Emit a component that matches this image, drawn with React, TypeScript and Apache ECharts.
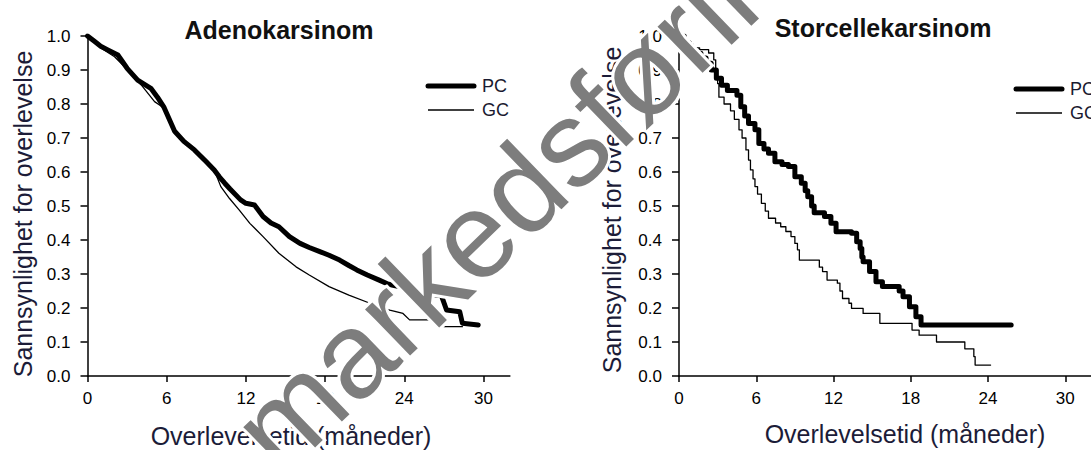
import React, { useEffect, useRef } from "react";
import * as echarts from "echarts";

// Adenokarsinom (left panel) — Kaplan-Meier estimates [months, survival]
const adenoPC: [number, number][] = [
  [0, 1], [0.5, 0.985], [1.0, 0.97], [1.5, 0.96], [2.3, 0.944], [3.0, 0.905], [3.8, 0.87],
  [4.8, 0.846], [5.3, 0.82], [5.8, 0.79], [6.6, 0.72], [7.3, 0.69], [8.1, 0.665], [9.0, 0.63],
  [9.6, 0.606], [10.0, 0.585], [10.4, 0.567], [10.8, 0.55], [11.6, 0.518], [12.0, 0.508],
  [12.65, 0.503], [13.3, 0.469], [13.9, 0.45], [14.5, 0.439], [15.3, 0.41], [16.1, 0.39],
  [16.8, 0.378], [17.6, 0.366], [18.3, 0.355], [19.1, 0.341], [19.8, 0.325], [20.4, 0.312],
  [21.2, 0.297], [22.1, 0.282], [22.8, 0.27], [23.6, 0.263], [24.4, 0.258], [24.9, 0.253],
  [25.7, 0.238], [26.8, 0.238], [27.2, 0.194], [28.2, 0.189], [28.4, 0.155], [29.6, 0.15],
];
const adenoGC: [number, number][] = [
  [0, 1], [1.04, 0.964], [2.05, 0.939], [3.05, 0.9], [4.07, 0.856], [5.08, 0.807], [5.8, 0.788],
  [6.6, 0.72], [8.1, 0.665], [9.6, 0.606], [10.1, 0.557], [10.76, 0.522], [11.5, 0.488],
  [12.3, 0.449], [13.3, 0.41], [14.5, 0.361], [15.8, 0.321], [16.8, 0.297], [18.3, 0.263],
  [19.8, 0.238], [21.4, 0.214], [22.9, 0.194], [23.9, 0.184], [24.4, 0.165], [26.9, 0.165],
  [27.0, 0.145], [28.4, 0.145],
];

// Storcellekarsinom (right panel) — step points [event time, new survival]
const storPC: [number, number][] = [
  [0, 1], [0.4, 0.98], [0.8, 0.96], [1.35, 0.949], [1.7, 0.935], [2.1, 0.92], [2.5, 0.9],
  [2.9, 0.876], [3.3, 0.855], [3.76, 0.84], [4.5, 0.826], [4.8, 0.792], [5.1, 0.765],
  [5.4, 0.743], [5.9, 0.724], [6.2, 0.684], [6.6, 0.668], [6.95, 0.655], [7.45, 0.63],
  [8.0, 0.622], [8.5, 0.616], [9.0, 0.586], [9.5, 0.567], [9.8, 0.545], [10.0, 0.527],
  [10.3, 0.5], [10.5, 0.48], [11.3, 0.469], [11.8, 0.449], [12.2, 0.424], [13.4, 0.42],
  [13.8, 0.395], [14.07, 0.375], [14.2, 0.35], [14.3, 0.336], [14.8, 0.307], [15.3, 0.277],
  [15.8, 0.263], [17.1, 0.25], [17.4, 0.233], [17.9, 0.204], [18.4, 0.174], [18.8, 0.15],
  [25.8, 0.15],
];
const storGC: [number, number][] = [
  [0, 1], [0.3, 0.985], [0.7, 0.975], [1.1, 0.965], [1.6, 0.96], [2.3, 0.95], [2.7, 0.93],
  [2.85, 0.9], [3.0, 0.86], [3.1, 0.82], [3.5, 0.8], [4.0, 0.78], [4.3, 0.755], [4.66, 0.724],
  [4.9, 0.7], [5.2, 0.665], [5.4, 0.635], [5.55, 0.606], [5.75, 0.58], [5.9, 0.557],
  [6.1, 0.535], [6.4, 0.508], [6.7, 0.485], [6.95, 0.464], [7.5, 0.45], [7.9, 0.439],
  [8.3, 0.425], [8.7, 0.41], [9.0, 0.39], [9.2, 0.371], [9.35, 0.341], [10.9, 0.32],
  [11.15, 0.307], [11.5, 0.282], [12.3, 0.273], [12.5, 0.25], [12.7, 0.228], [13.2, 0.214],
  [13.4, 0.199], [14.3, 0.184], [15.6, 0.155], [18.1, 0.135], [18.65, 0.12], [20.0, 0.1],
  [22.2, 0.08], [22.9, 0.057], [23.0, 0.032], [24.2, 0.032],
];

const xTicks = [0, 6, 12, 18, 24, 30];
const yTicks = [0, 0.1, 0.2, 0.3, 0.4, 0.5, 0.6, 0.7, 0.8, 0.9, 1.0];
const titles = ["Adenokarsinom", "Storcellekarsinom"];
const seriesNames = ["PC", "GC"];
const xName = "Overlevelsetid (måneder)";
const yName = "Sannsynlighet for overlevelse";
const watermark = "markedsføring";

const FONT = "'Liberation Sans', Arial, sans-serif";

export default function App() {
  const ref = useRef<HTMLDivElement>(null);
  useEffect(() => {
    document.body.style.margin = "0";
    if (!ref.current) return;
    const chart = echarts.init(ref.current, undefined, { renderer: "svg" });

    const mkX = (i: number) => ({
      type: "value",
      gridIndex: i,
      min: 0,
      max: 32,
      axisLine: { show: true, onZero: false, lineStyle: { color: "#000", width: 1.5 } },
      axisTick: { show: true, length: 6, customValues: xTicks, lineStyle: { color: "#000", width: 1.5 } },
      axisLabel: { customValues: xTicks, color: "#000", fontSize: 17, fontFamily: FONT, margin: 14 },
      splitLine: { show: false },
    });
    const mkY = (i: number) => ({
      type: "value",
      gridIndex: i,
      min: 0,
      max: 1,
      axisLine: { show: true, onZero: false, lineStyle: { color: "#000", width: 1.5 } },
      axisTick: { show: true, length: 7, customValues: yTicks, lineStyle: { color: "#000", width: 1.5 } },
      axisLabel: {
        customValues: yTicks,
        color: "#000",
        fontSize: 17,
        fontFamily: FONT,
        margin: 17,
        formatter: (v: number) => v.toFixed(1),
      },
      splitLine: { show: false },
    });

    const mkSeries = (name: string, data: [number, number][], idx: number, thick: boolean, step: any) => ({
      name,
      type: "line",
      xAxisIndex: idx,
      yAxisIndex: idx,
      data,
      step,
      showSymbol: false,
      symbol: "none",
      lineStyle: { color: "#000", width: thick ? 5 : 1.3, join: "round", cap: "round" },
      z: thick ? 3 : 2,
    });

    const legendItems = (x0: number, x1: number, yPC: number, yGC: number, tx: number) => [
      { type: "line", shape: { x1: x0, y1: yPC, x2: x1, y2: yPC }, style: { stroke: "#000", lineWidth: 5, lineCap: "round" } },
      { type: "line", shape: { x1: x0, y1: yGC, x2: x1, y2: yGC }, style: { stroke: "#000", lineWidth: 1.3 } },
      { type: "text", x: tx, y: yPC, style: { text: seriesNames[0], fontSize: 18, fontFamily: FONT, fill: "#1a1a30", textVerticalAlign: "middle" } },
      { type: "text", x: tx, y: yGC, style: { text: seriesNames[1], fontSize: 18, fontFamily: FONT, fill: "#1a1a30", textVerticalAlign: "middle" } },
    ];

    const txt = (text: string, x: number, y: number, size: number, bold: boolean, rot = 0) => ({
      type: "text",
      x,
      y,
      rotation: rot,
      style: {
        text,
        fontSize: size,
        fontWeight: bold ? "bold" : "normal",
        fontFamily: FONT,
        fill: bold ? "#111" : "#1c1c38",
        textAlign: "center",
        textVerticalAlign: "middle",
      },
    });

    const wmX = 253, wmY = 449, wmRot = (44 * Math.PI) / 180, wmSize = 122;
    const wmStyle = {
      text: watermark,
      fontSize: wmSize,
      fontFamily: FONT,
      textAlign: "left",
      textVerticalAlign: "middle",
    };

    const option: any = {
      animation: false,
      backgroundColor: "#fff",
      grid: [
        { left: 87.5, top: 36, width: 422.4, height: 340 },
        { left: 679, top: 36, width: 420, height: 340 },
      ],
      xAxis: [mkX(0), mkX(1)],
      yAxis: [mkY(0), mkY(1)],
      series: [
        mkSeries("PC", adenoPC, 0, true, false),
        mkSeries("GC", adenoGC, 0, false, false),
        mkSeries("PC", storPC, 1, true, "end"),
        mkSeries("GC", storGC, 1, false, "end"),
      ],
      graphic: [
        txt(titles[0], 279, 30, 25, true),
        txt(titles[1], 883, 28, 25, true),
        txt(xName, 291, 436, 25, false),
        txt(xName, 905, 434, 25, false),
        txt(yName, 23, 214, 25, false, Math.PI / 2),
        txt(yName, 612, 210, 25, false, Math.PI / 2),
        ...legendItems(428, 474, 86, 110, 482),
        ...legendItems(1016, 1062, 89, 113, 1070),
        {
          type: "text",
          x: wmX,
          y: wmY,
          rotation: wmRot,
          z: 100,
          style: { ...wmStyle, fill: "#fff", stroke: "#fff", lineWidth: 6 },
        },
        {
          type: "text",
          x: wmX,
          y: wmY,
          rotation: wmRot,
          z: 101,
          style: { ...wmStyle, fill: "#7d7d7d" },
        },
      ],
    };
    chart.setOption(option);
    return () => chart.dispose();
  }, []);
  return <div ref={ref} style={{ width: 1091, height: 450 }} />;
}
